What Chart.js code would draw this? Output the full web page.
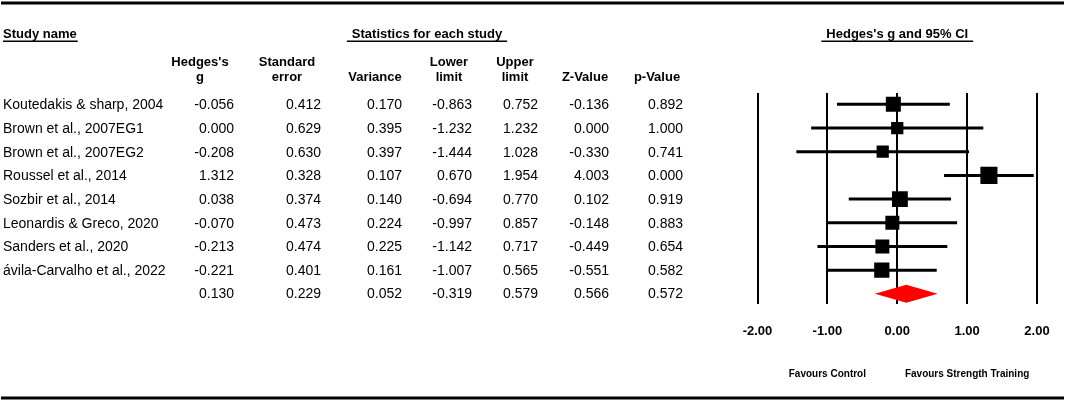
<!DOCTYPE html>
<html>
<head>
<meta charset="utf-8">
<script src="https://cdn.jsdelivr.net/npm/chart.js@4.4.0/dist/chart.umd.min.js"></script>
<style>
    body { margin: 0; background: #fff; }
    .forest-wrap { position: relative; width: 1065px; height: 401px; }
</style>
</head>
<body>
<div class="forest-wrap">
    <canvas id="forestChart"></canvas>
</div>

<script>
    // Données de la méta-analyse
    const studies = [
        'Koutedakis & sharp, 2004',
        'Brown et al., 2007EG1',
        'Brown et al., 2007EG2',
        'Roussel et al., 2014',
        'Sozbir et al., 2014',
        'Leonardis & Greco, 2020',
        'Sanders et al., 2020',
        'ávila-Carvalho et al., 2022'
    ];
    const hedgesG   = [-0.056, 0.000, -0.208, 1.312, 0.038, -0.070, -0.213, -0.221];
    const stdError  = [0.412, 0.629, 0.630, 0.328, 0.374, 0.473, 0.474, 0.401];
    const variance  = [0.170, 0.395, 0.397, 0.107, 0.140, 0.224, 0.225, 0.161];
    const lowerLim  = [-0.863, -1.232, -1.444, 0.670, -0.694, -0.997, -1.142, -1.007];
    const upperLim  = [0.752, 1.232, 1.028, 1.954, 0.770, 0.857, 0.717, 0.565];
    const zValue    = [-0.136, 0.000, -0.330, 4.003, 0.102, -0.148, -0.449, -0.551];
    const pValue    = [0.892, 1.000, 0.741, 0.000, 0.919, 0.883, 0.654, 0.582];
    // Ligne de synthèse : g, SE, variance, lower, upper, Z, p
    const summaryStats = [0.130, 0.229, 0.052, -0.319, 0.579, 0.566, 0.572];
    const xTicks = [-2, -1, 0, 1, 2];

    // Colonnes du tableau (centre de l'en-tête, bord droit des valeurs)
    const columns = [
        { head: ['Hedges\'s', 'g'], center: 200, right: 234, values: hedgesG },
        { head: ['Standard', 'error'], center: 287, right: 321, values: stdError },
        { head: ['', 'Variance'], center: 375, right: 402, values: variance },
        { head: ['Lower', 'limit'], center: 449, right: 472, values: lowerLim },
        { head: ['Upper', 'limit'], center: 515, right: 538, values: upperLim },
        { head: ['', 'Z-Value'], center: 585, right: 609, values: zValue },
        { head: ['', 'p-Value'], center: 657, right: 683, values: pValue }
    ];

    const FONT = '"Liberation Sans", Arial, sans-serif';

    function underlinedText(ctx, text, cx, y, pad) {
        ctx.font = 'bold 13px ' + FONT;
        ctx.textAlign = 'center';
        ctx.fillText(text, cx, y);
        const w = ctx.measureText(text).width;
        ctx.fillRect(cx - w / 2 - pad, y + 6.5, w + pad * 2, 1.5);
    }

    // Plugin : tableau, règles, losange de synthèse
    const forestPlugin = {
        id: 'forestTable',
        beforeDraw(chart) {
            const ctx = chart.ctx;
            ctx.save();
            ctx.fillStyle = '#000';
            ctx.fillRect(1, 1.5, 1063, 3);
            ctx.fillRect(1, 396.5, 1063, 3);
            ctx.restore();
        },
        afterDatasetsDraw(chart) {
            const ctx = chart.ctx;
            const xs = chart.scales.x;
            const ys = chart.scales.y;

            // Losange rouge (effet global)
            const yd = ys.getPixelForValue(studies.length);
            ctx.save();
            ctx.fillStyle = '#ff0000';
            ctx.beginPath();
            ctx.moveTo(xs.getPixelForValue(summaryStats[3]), yd);
            ctx.lineTo(xs.getPixelForValue(summaryStats[0]), yd - 9);
            ctx.lineTo(xs.getPixelForValue(summaryStats[4]), yd);
            ctx.lineTo(xs.getPixelForValue(summaryStats[0]), yd + 9);
            ctx.closePath();
            ctx.fill();
            ctx.restore();
        },
        afterDraw(chart) {
            const ctx = chart.ctx;
            const xs = chart.scales.x;
            const ys = chart.scales.y;
            ctx.save();
            ctx.fillStyle = '#000';
            ctx.textBaseline = 'middle';

            // En-têtes
            ctx.font = 'bold 13px ' + FONT;
            ctx.textAlign = 'left';
            ctx.fillText('Study name', 3, 34);
            let w = ctx.measureText('Study name').width;
            ctx.fillRect(3, 40.5, w + 1, 1.5);
            underlinedText(ctx, 'Statistics for each study', 427, 34, 5);
            underlinedText(ctx, 'Hedges\'s g and 95% CI', xs.getPixelForValue(0), 34, 5);

            ctx.textAlign = 'center';
            columns.forEach(col => {
                if (col.head[0]) ctx.fillText(col.head[0], col.center, 62);
                ctx.fillText(col.head[1], col.center, 77);
            });

            // Lignes du tableau
            ctx.font = '14px ' + FONT;
            studies.forEach((name, i) => {
                const y = ys.getPixelForValue(i) + 1;
                ctx.textAlign = 'left';
                ctx.fillText(name, 3, y);
                ctx.textAlign = 'right';
                columns.forEach(col => {
                    ctx.fillText(col.values[i].toFixed(3), col.right, y);
                });
            });
            const ySum = ys.getPixelForValue(studies.length);
            ctx.textAlign = 'right';
            columns.forEach((col, c) => {
                ctx.fillText(summaryStats[c].toFixed(3), col.right, ySum);
            });

            // Libellés sous l'axe
            ctx.font = 'bold 10px ' + FONT;
            ctx.textAlign = 'center';
            ctx.fillText('Favours Control', xs.getPixelForValue(-1), 374);
            ctx.fillText('Favours Strength Training', xs.getPixelForValue(1), 374);
            ctx.restore();
        }
    };

    // Taille des carrés selon le poids (1 / variance)
    const boxRadius = variance.map(v => (7 + 3.3 * Math.sqrt(1 / v)) / (2 * Math.SQRT1_2));

    const datasets = [{
        label: 'Hedges\'s g',
        data: hedgesG.map((g, i) => ({ x: g, y: i })),
        pointStyle: 'rect',
        pointRadius: boxRadius,
        backgroundColor: '#000',
        borderWidth: 0,
        showLine: false
    }];
    studies.forEach((s, i) => {
        datasets.push({
            label: s,
            data: [{ x: lowerLim[i], y: i }, { x: upperLim[i], y: i }],
            showLine: true,
            borderColor: '#000',
            borderWidth: 3,
            pointRadius: 0
        });
    });

    const ctx = document.getElementById('forestChart').getContext('2d');
    new Chart(ctx, {
        type: 'scatter',
        data: { datasets: datasets },
        options: {
            responsive: true,
            maintainAspectRatio: false,
            animation: false,
            events: [],
            layout: { padding: { left: 757.5, right: 28, top: 93, bottom: 0 } },
            plugins: {
                legend: { display: false },
                tooltip: { enabled: false }
            },
            scales: {
                x: {
                    type: 'linear',
                    min: -2,
                    max: 2,
                    afterBuildTicks: axis => { axis.ticks = xTicks.map(v => ({ value: v })); },
                    afterFit: axis => {
                        axis.height = 97;
                        axis.paddingLeft = 0;
                        axis.paddingRight = 0;
                    },
                    grid: { color: '#000', lineWidth: 2, drawTicks: false },
                    border: { display: false },
                    ticks: {
                        padding: 20,
                        color: '#000',
                        font: { family: FONT, size: 13, weight: 'bold' },
                        callback: v => v.toFixed(2)
                    }
                },
                y: {
                    type: 'linear',
                    display: false,
                    reverse: true,
                    min: -0.48,
                    max: 8.43
                }
            }
        },
        plugins: [forestPlugin]
    });
</script>
</body>
</html>
